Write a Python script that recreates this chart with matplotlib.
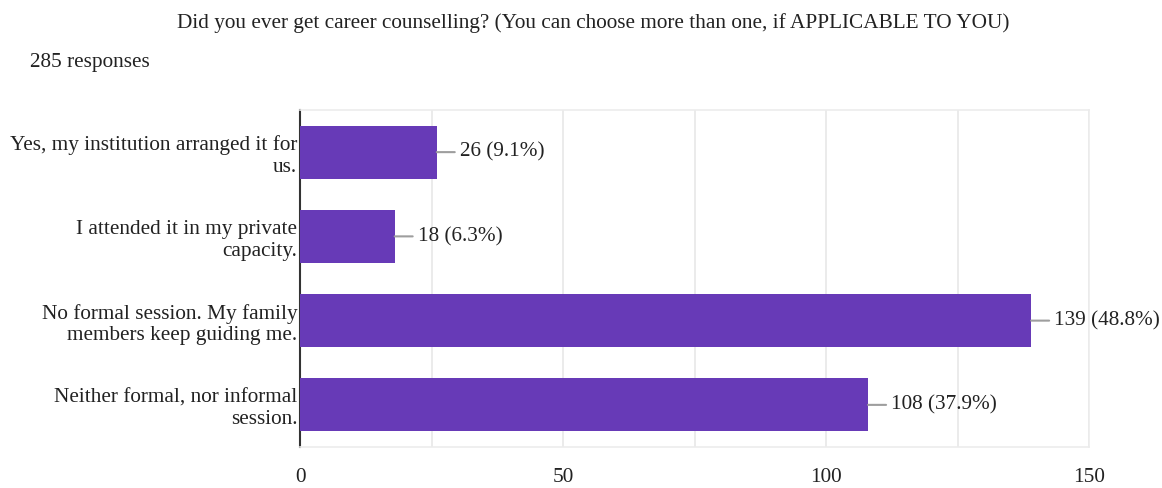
import matplotlib
matplotlib.use("Agg")
import matplotlib.pyplot as plt

categories = [
    "Yes, my institution arranged it for\nus.",
    "I attended it in my private\ncapacity.",
    "No formal session. My family\nmembers keep guiding me.",
    "Neither formal, nor informal\nsession.",
]
counts = [26, 18, 139, 108]
percents = [9.1, 6.3, 48.8, 37.9]
xticks = [0, 50, 100, 150]

plt.rcParams["font.family"] = ["Liberation Serif", "DejaVu Serif"]
fs = 15.3

fig = plt.figure(figsize=(11.62, 4.88), dpi=100)
ax = fig.add_axes([300 / 1162, 1 - 447 / 488, 789 / 1162, 337 / 488])

ypos = list(range(len(categories)))
ax.barh(ypos, counts, height=0.63, color="#673ab7", zorder=3)

for y, c, p in zip(ypos, counts, percents):
    ax.annotate("", xy=(c, y), xytext=(18, 0), textcoords="offset pixels",
                arrowprops=dict(arrowstyle="-", color="#9e9e9e", lw=1.5, shrinkA=0, shrinkB=0))
    ax.annotate(f"{c} ({p}%)", xy=(c, y), xytext=(23, 0), textcoords="offset pixels",
                va="center", ha="left", fontsize=fs, color="#222222")

ax.set_xlim(0, 150)
ax.set_ylim(3.5, -0.5)
ax.set_xticks(xticks)
ax.set_xticks(range(0, 151, 25), minor=True)
ax.set_xticklabels([str(t) for t in xticks], fontsize=fs, color="#222222")
ax.set_yticks(ypos)
ax.set_yticklabels(categories, fontsize=fs, color="#222222", linespacing=1.2)
ax.tick_params(axis="both", length=0, pad=2)
ax.tick_params(axis="x", pad=15)
ax.tick_params(axis="x", which="minor", length=0)
ax.grid(axis="x", which="both", color="#e8e8e8", lw=1.2, zorder=0)

for side in ["top", "right", "bottom"]:
    ax.spines[side].set_color("#ececec")
    ax.spines[side].set_linewidth(1.2)
ax.spines["left"].set_color("#333333")
ax.spines["left"].set_linewidth(1.5)

fig.text(593 / 1162, 1 - 23 / 488, "Did you ever get career counselling? (You can choose more than one, if APPLICABLE TO YOU)",
         ha="center", va="center", fontsize=fs, color="#222222")
fig.text(30 / 1162, 1 - 62 / 488, "285 responses", ha="left", va="center", fontsize=fs, color="#222222")

fig.savefig("out.png", dpi=100)
